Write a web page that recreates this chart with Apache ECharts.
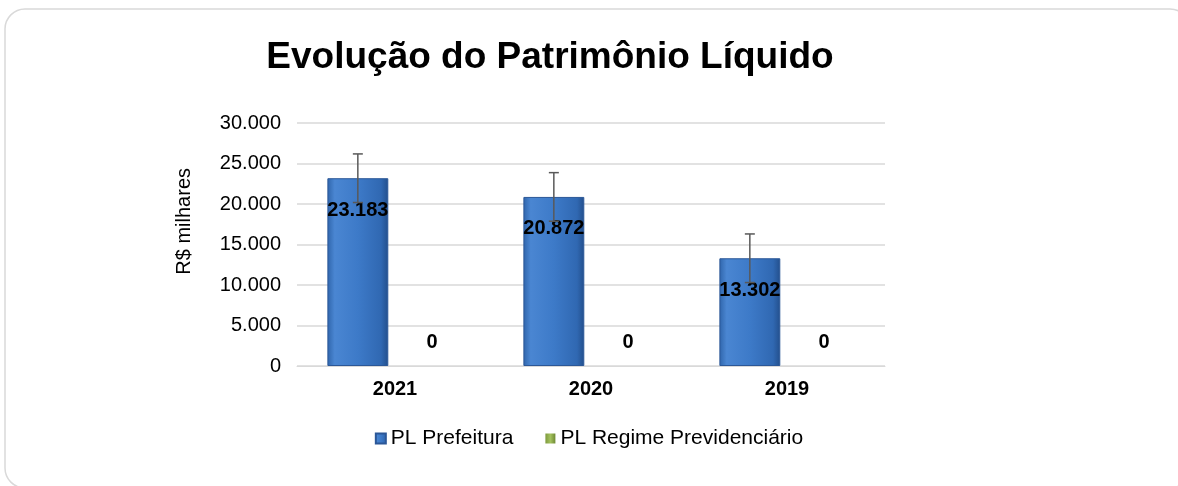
<!DOCTYPE html>
<html>
<head>
<meta charset="utf-8">
<script src="https://cdn.jsdelivr.net/npm/echarts@6/dist/echarts.min.js"></script>
<style>
html,body{margin:0;padding:0;background:#fff;}
#chart{width:1178px;height:486px;}
</style>
</head>
<body>
<div id="chart"></div>
<script>
const categories = ['2021', '2020', '2019'];
const plPrefeitura = [23183, 20872, 13302];
const plRegime = [0, 0, 0];
const errorAmounts = [3000, 3000, 3000];
const yTicks = { min: 0, max: 30000, interval: 5000 };

function fmt(v) {
  return String(v).replace(/\B(?=(\d{3})+(?!\d))/g, '.');
}

const CAT_GAP = 0.31, BAR_GAP = 0.22;

const chart = echarts.init(document.getElementById('chart'));
chart.setOption({
  backgroundColor: '#ffffff',
  animation: false,
  title: {
    text: 'Evolução do Patrimônio Líquido',
    left: 545, top: 34, textAlign: 'center',
    textStyle: { fontFamily: 'Liberation Sans, Arial', fontWeight: 'bold', fontSize: 37, color: '#000' }
  },
  graphic: [
    { type: 'rect', z: -10, shape: { x: 5, y: 9, width: 1185, height: 479, r: 20 },
      style: { fill: 'none', stroke: '#d9d9d9', lineWidth: 1.5 } },
    { type: 'text', left: 174, top: 168, rotation: Math.PI / 2,
      style: { text: 'R$ milhares', font: '20px "Liberation Sans", Arial', fill: '#000' } }
  ],
  legend: {
    bottom: 32, left: 'center', itemWidth: 10, itemHeight: 10, itemGap: 32,
    icon: 'rect',
    textStyle: { fontFamily: 'Liberation Sans, Arial', fontSize: 21, color: '#000' },
    data: ['PL Prefeitura', 'PL Regime Previdenciário']
  },
  grid: { left: 297, right: 293, top: 123, bottom: 120 },
  xAxis: {
    type: 'category', data: categories,
    axisLine: { lineStyle: { color: '#d9d9d9' } },
    axisTick: { show: false },
    axisLabel: { fontFamily: 'Liberation Sans, Arial', fontWeight: 'bold', fontSize: 20, color: '#000', margin: 13 }
  },
  yAxis: {
    type: 'value', min: yTicks.min, max: yTicks.max, interval: yTicks.interval,
    axisLine: { show: false }, axisTick: { show: false },
    splitLine: { lineStyle: { color: '#d9d9d9', width: 1.5 } },
    axisLabel: { formatter: fmt, fontFamily: 'Liberation Sans, Arial', fontSize: 20, color: '#000', margin: 16 }
  },
  series: [
    {
      name: 'PL Prefeitura', type: 'bar', data: plPrefeitura,
      barCategoryGap: (CAT_GAP * 100) + '%', barGap: (BAR_GAP * 100) + '%',
      itemStyle: {
        borderColor: '#2b5797', borderWidth: 1,
        color: new echarts.graphic.LinearGradient(0, 0, 1, 0, [
          { offset: 0, color: '#2f65ab' },
          { offset: 0.12, color: '#4a86d2' },
          { offset: 0.5, color: '#3d7ac8' },
          { offset: 0.88, color: '#3068b2' },
          { offset: 1, color: '#234f8c' }
        ])
      },
      label: {
        show: true, position: 'insideTop', distance: 22, formatter: p => fmt(p.value),
        fontFamily: 'Liberation Sans, Arial', fontWeight: 'bold', fontSize: 20, color: '#000'
      },
      z: 2
    },
    {
      name: 'PL Regime Previdenciário', type: 'bar', data: plRegime,
      itemStyle: {
        color: new echarts.graphic.LinearGradient(0, 0, 1, 0, [
          { offset: 0, color: '#7e9a3e' },
          { offset: 0.5, color: '#a4c25e' },
          { offset: 1, color: '#6f8a35' }
        ])
      },
      label: {
        show: true, position: 'top', distance: 14, formatter: p => fmt(p.value),
        fontFamily: 'Liberation Sans, Arial', fontWeight: 'bold', fontSize: 20, color: '#000'
      }
    },
    {
      type: 'custom', name: 'err', z: 5, silent: true,
      data: plPrefeitura.map((v, i) => [i, v - errorAmounts[i], v + errorAmounts[i]]),
      renderItem: function (params, api) {
        const i = api.value(0);
        const band = api.size([1, 0])[0];
        const bw = band * (1 - CAT_GAP) / (2 + BAR_GAP);
        const off = -(bw + bw * BAR_GAP) / 2;
        const lo = api.coord([i, api.value(1)]);
        const hi = api.coord([i, api.value(2)]);
        const x = lo[0] + off;
        const cap = 5;
        const st = { stroke: '#595959', lineWidth: 1.5 };
        return {
          type: 'group',
          children: [
            { type: 'line', shape: { x1: x, y1: lo[1], x2: x, y2: hi[1] }, style: st },
            { type: 'line', shape: { x1: x - cap, y1: lo[1], x2: x + cap, y2: lo[1] }, style: st },
            { type: 'line', shape: { x1: x - cap, y1: hi[1], x2: x + cap, y2: hi[1] }, style: st }
          ]
        };
      }
    }
  ]
});
</script>
</body>
</html>
